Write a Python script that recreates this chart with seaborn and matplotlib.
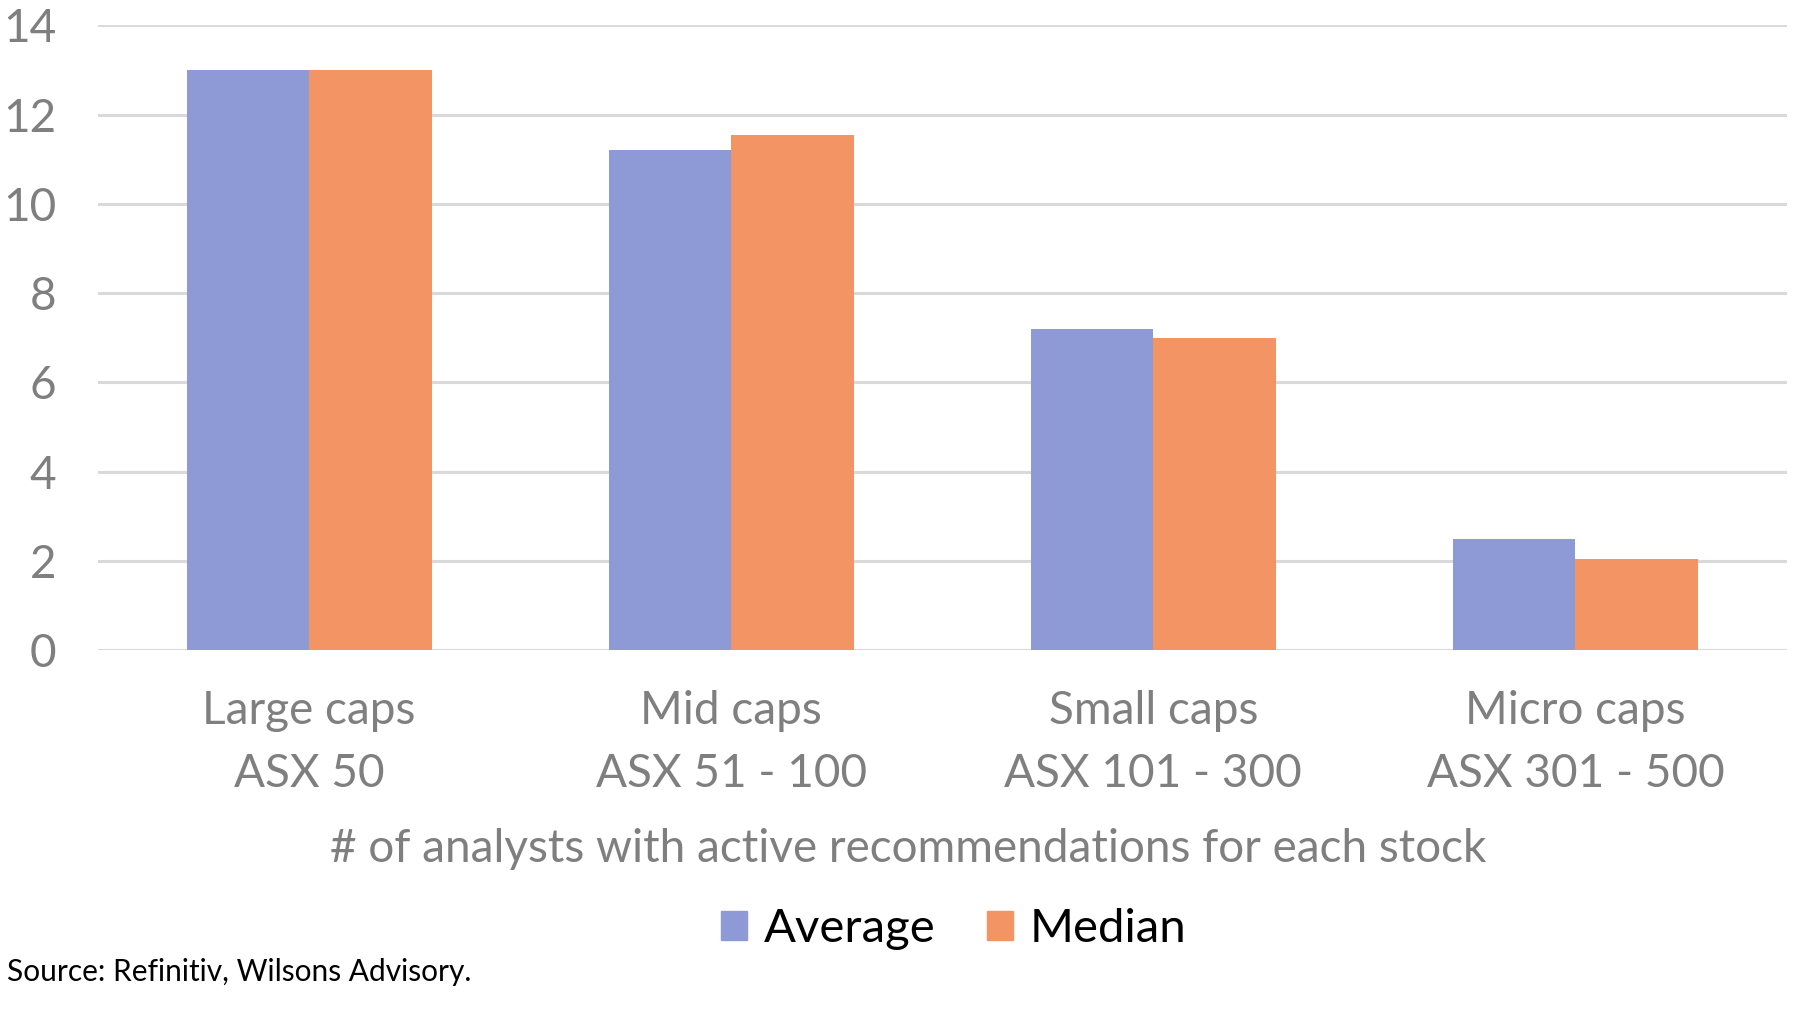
import pandas as pd
import numpy as np
import matplotlib.pyplot as plt
import seaborn as sns

categories = ['Large caps\nASX 50', 'Mid caps\nASX 51 - 100',
              'Small caps\nASX 101 - 300', 'Micro caps\nASX 301 - 500']
average = [13.0, 11.2, 7.2, 2.5]
median = [13.0, 11.55, 7.0, 2.05]
series = ['Average', 'Median']
colors = ['#8D9AD5', '#F39465']

df = pd.DataFrame({
    'category': categories * 2,
    'series': ['Average'] * 4 + ['Median'] * 4,
    'value': average + median,
})

sns.set_theme(style='white')
plt.rcParams['font.family'] = ['Lato', 'DejaVu Sans']

fig = plt.figure(figsize=(18, 10.19), dpi=100)
ax = fig.add_axes([0.0545, 0.362, 0.938, 0.613])

sns.barplot(data=df, x='category', y='value', hue='series',
            palette=colors, width=0.58, gap=0, linewidth=0,
            saturation=1, ax=ax, legend=False)

ax.set_ylim(0, 14)
ax.set_yticks(np.arange(0, 15, 2))
ax.set_xlim(-0.5, 3.5)
ax.yaxis.grid(True, color='#D9D9D9', linewidth=2.2)
ax.set_axisbelow(True)
sns.despine(ax=ax, left=True, bottom=True)
ax.tick_params(axis='both', length=0, labelsize=33, labelcolor='#7F7F7F')
ax.tick_params(axis='y', pad=30)
ax.tick_params(axis='x', pad=29)
for lab in ax.get_xticklabels():
    lab.set_linespacing(1.62)

ax.set_ylabel('')
ax.set_xlabel('# of analysts with active recommendations for each stock',
              fontsize=33, color='#7F7F7F')
ax.xaxis.set_label_coords(0.48, -0.318)
ax.xaxis.label.set_va('center')

handles = [plt.Rectangle((0, 0), 1, 1, color=c) for c in colors]
fig.legend(handles, series, loc='center', bbox_to_anchor=(0.53, 0.088),
           ncol=2, frameon=False, handlelength=0.55, handleheight=0.55,
           handletextpad=0.35, columnspacing=1.1, labelcolor='black',
           prop={'size': 34})

fig.text(0.004, 0.037, 'Source: Refinitiv, Wilsons Advisory.', fontsize=21.5,
         color='black', ha='left', va='baseline')

fig.savefig('out.png', dpi=100)
